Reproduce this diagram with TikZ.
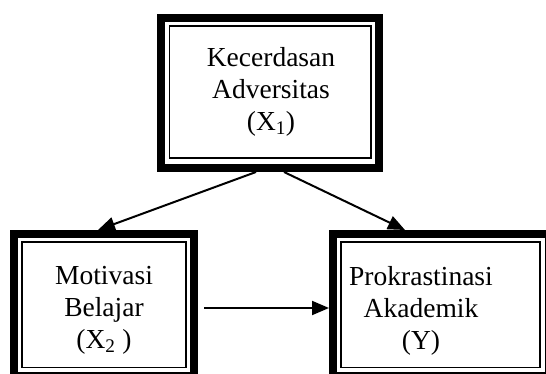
\documentclass[tikz,border=0pt]{standalone}
\usepackage{fontspec}
\setmainfont{Liberation Serif}
\usetikzlibrary{arrows.meta}

\begin{document}
\begin{tikzpicture}[x=1pt, y=-1pt,
	outerbox/.style={draw, line width=8pt, inner sep=0pt, outer sep=0pt},
	innerbox/.style={draw, line width=1.5pt},
	label/.style={align=center, inner sep=0pt, font=\fontsize{27.5}{32}\selectfont},
	arrow/.style={line width=2pt, -{Triangle[length=17pt, width=14pt]}}]
	\useasboundingbox (0,0) rectangle (546,374);
	\clip (0,0) rectangle (546,374);

	%boxes
	\node[outerbox, minimum width=218pt, minimum height=150pt] (x1box) at (270,93) {};
	\draw[innerbox] ([shift={(8.5,8)}]x1box.north west) rectangle ([shift={(-8,-10)}]x1box.south east);

	\node[outerbox, minimum width=180pt, minimum height=142pt] (x2box) at (104,305) {};
	\draw[innerbox] ([shift={(8,8)}]x2box.north west) rectangle ([shift={(-8,-8.5)}]x2box.south east);

	\node[outerbox, minimum width=216pt, minimum height=142pt] (ybox) at (441,305) {};
	\draw[innerbox] ([shift={(8,8)}]ybox.north west) rectangle ([shift={(-9,-8.5)}]ybox.south east);

	%labels
	\node[label] (x1) at (271,92) {Kecerdasan\\Adversitas\\(X\textsubscript{1})};
	\node[label] (x2) at (104,310.5) {Motivasi\\Belajar\\(X\textsubscript{2} )};
	\node[label] (y) at (421,310.5) {Prokrastinasi\\Akademik\\(Y)};

	%arrows
	\draw[arrow] ([xshift=-14pt, yshift=-4pt]x1box.south) -- ([xshift=-6pt, yshift=4pt]x2box.north);
	\draw[arrow] ([xshift=14pt, yshift=-4pt]x1box.south) -- ([xshift=-36pt, yshift=4pt]ybox.north);
	\draw[arrow] ([xshift=10pt, yshift=-3pt]x2box.east) -- ([xshift=-4pt, yshift=-3pt]ybox.west);
\end{tikzpicture}
\end{document}
